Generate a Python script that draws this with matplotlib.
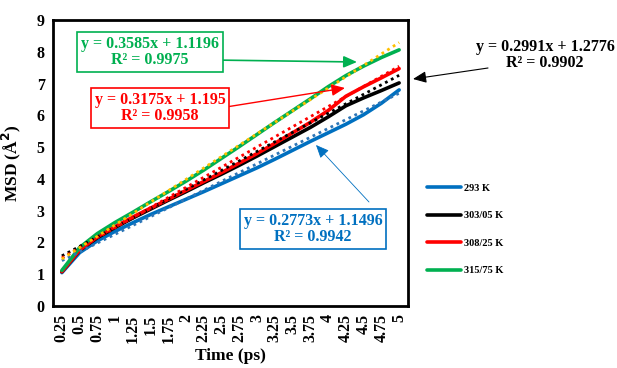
import matplotlib
matplotlib.use("Agg")
import matplotlib.pyplot as plt
import numpy as np

# data
times = ["0.25", "0.5", "0.75", "1", "1.25", "1.5", "1.75", "2", "2.25", "2.5",
         "2.75", "3", "3.25", "3.5", "3.75", "4", "4.25", "4.5", "4.75", "5"]
msd_293 = [1.05, 1.68, 2.05, 2.35, 2.62, 2.88, 3.12, 3.36, 3.60, 3.85,
           4.10, 4.35, 4.62, 4.90, 5.18, 5.45, 5.72, 6.02, 6.38, 6.80]
msd_303 = [1.08, 1.75, 2.15, 2.47, 2.77, 3.05, 3.33, 3.60, 3.88, 4.15,
           4.43, 4.72, 5.02, 5.32, 5.62, 5.95, 6.30, 6.55, 6.78, 7.02]
msd_308 = [1.08, 1.76, 2.18, 2.50, 2.80, 3.08, 3.36, 3.64, 3.92, 4.20,
           4.50, 4.80, 5.12, 5.45, 5.78, 6.15, 6.60, 6.90, 7.18, 7.47]
msd_315 = [1.12, 1.84, 2.28, 2.63, 2.95, 3.28, 3.60, 3.93, 4.28, 4.65,
           5.02, 5.40, 5.78, 6.15, 6.52, 6.90, 7.25, 7.55, 7.82, 8.06]
labels = ["293 K", "303/05 K", "308/25 K", "315/75 K"]
# excel trendlines (x = 1..n)
slopes = [0.2773, 0.2991, 0.3175, 0.3585]
intercepts = [1.1496, 1.2776, 1.195, 1.1196]
r2 = [0.9942, 0.9902, 0.9958, 0.9975]

line_colors = ["#0070C0", "#000000", "#FF0000", "#00B050"]
trend_colors = ["#2E75B6", "#000000", "#FF0000", "#FFC000"]

plt.rcParams['font.family'] = ['Liberation Serif', 'DejaVu Serif']
plt.rcParams['font.weight'] = 'bold'

W, H = 617, 368
fig = plt.figure(figsize=(W / 100, H / 100), dpi=100)
ax = fig.add_axes([53 / W, 1 - 306 / H, (408 - 53) / W, (306 - 20) / H])

x = np.arange(len(times))
series = [msd_293, msd_303, msd_308, msd_315]
for ys, c, lab in zip(series, line_colors, labels):
    ax.plot(x, ys, color=c, lw=2.6, label=lab, solid_capstyle='round', zorder=3)
for m, b, c in zip(slopes, intercepts, trend_colors):
    xi = x + 1
    ax.plot(x, m * xi + b, color=c, lw=2.0, linestyle=(0, (1, 1.4)), zorder=4)

ax.set_xlim(-0.5, len(times) - 0.5)
ax.set_ylim(0, 9)
ax.set_xticks(x)
ax.set_xticklabels(times, rotation=90, fontsize=11.5, fontweight='bold')
ax.set_yticks(range(10))
ax.set_yticklabels([str(v) for v in range(10)], fontsize=11.5, fontweight='bold')
ax.tick_params(length=0, pad=6)
for s in ax.spines.values():
    s.set_linewidth(2)
ax.set_xlabel("Time (ps)", fontsize=12.5, fontweight='bold', labelpad=4)
ax.set_ylabel("MSD (Å$^{\\mathbf{2}}$)", fontsize=12.5, fontweight='bold', labelpad=10)

leg = ax.legend(loc='upper left', bbox_to_anchor=(418 / W, 1 - 174 / H),
                bbox_transform=fig.transFigure, frameon=False, fontsize=7.5,
                handlelength=3.2, labelspacing=1.75, handletextpad=0.3)
for t in leg.get_texts():
    t.set_fontweight('bold')


def fp(px, py):
    return (px, H - py)


eq_size = 11.5
boxes = [
    # (index, text center, arrow start, arrow end, boxed, arrow lw)
    (3, (150, 52), (212, 60), (357, 62), True, 1.2),
    (2, (160, 108), (226, 107), (345, 88), True, 1.0),
    (1, (545, 55), (488, 68), (413, 79), False, 0.8),
    (0, (313, 229), (369, 202), (316, 145), True, 0.6),
]
for i, center, a0, a1, boxed, alw in boxes:
    txt = "y = %gx + %g\nR² = %g" % (slopes[i], intercepts[i], r2[i])
    bbox = dict(boxstyle='square,pad=0.25', fc='white', ec=line_colors[i], lw=1.2) if boxed else None
    fig.text(center[0] / W, 1 - center[1] / H, txt, ha='center', va='center',
             color=line_colors[i], fontsize=eq_size, fontweight='bold',
             linespacing=1.05, bbox=bbox, zorder=10)
    ax.annotate("", xy=fp(*a1), xytext=fp(*a0), xycoords='figure pixels',
                textcoords='figure pixels',
                arrowprops=dict(arrowstyle='-|>,head_length=0.8,head_width=0.35',
                                color=line_colors[i], lw=alw, shrinkA=0, shrinkB=0),
                annotation_clip=False, zorder=10)

fig.savefig("out.png", dpi=100)
